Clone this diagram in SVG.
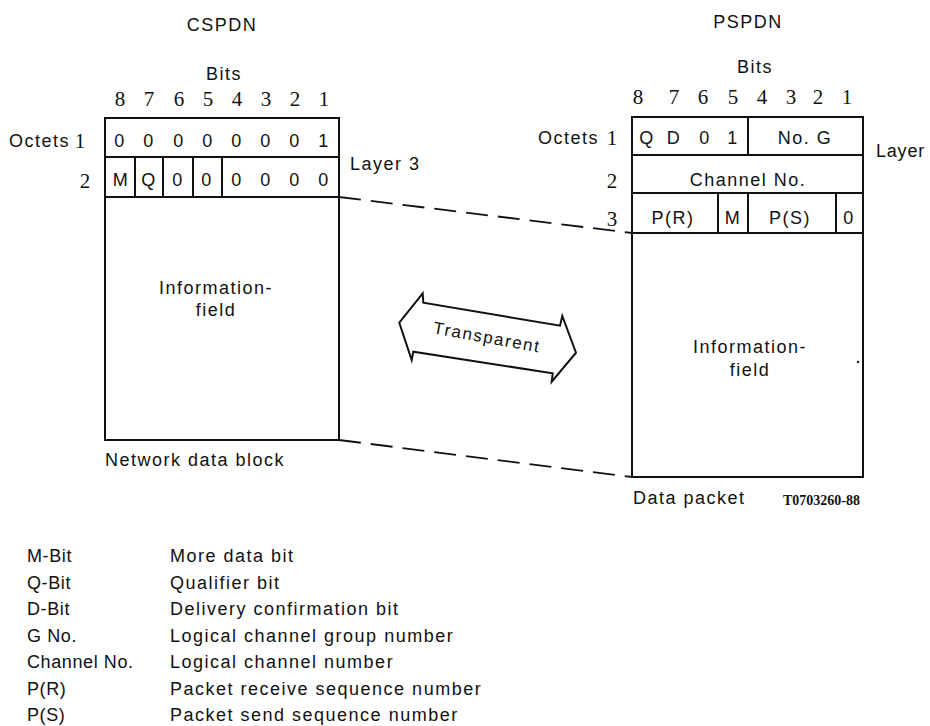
<svg xmlns="http://www.w3.org/2000/svg" width="930" height="726" viewBox="0 0 930 726">
<style>
.t{font-family:"Liberation Sans",Arial,sans-serif;font-size:18px;letter-spacing:1.5px;fill:#111}
.c{text-anchor:middle}
.e{text-anchor:end}
.n{font-family:"Liberation Serif","Times New Roman",serif;font-size:21px;fill:#111;text-anchor:middle}
.lg{font-family:"Liberation Sans",Arial,sans-serif;font-size:18px;letter-spacing:1.5px;fill:#111}
.lk{letter-spacing:0.6px}
.box{fill:none;stroke:#111;stroke-width:2}
.ln{stroke:#111;stroke-width:2}
.dash{stroke:#111;stroke-width:1.8;stroke-dasharray:22 10;fill:none}
</style>
<rect width="930" height="726" fill="#fff"/>

<g id="cspdn">
<text class="t c" x="222" y="31">CSPDN</text>
<text class="t c" x="224" y="80">Bits</text>
<g class="n">
<text x="120" y="106">8</text><text x="149" y="106">7</text><text x="179" y="106">6</text><text x="208" y="106">5</text><text x="237" y="106">4</text><text x="266" y="106">3</text><text x="295" y="106">2</text><text x="324" y="106">1</text>
</g>
<text class="t e" x="70" y="147">Octets</text>
<text class="n" x="80" y="148">1</text>
<text class="n" x="85" y="188">2</text>
<rect class="box" x="105" y="118" width="234" height="322"/>
<line class="ln" x1="105" y1="157" x2="339" y2="157"/>
<line class="ln" x1="105" y1="197" x2="339" y2="197"/>
<line class="ln" x1="135" y1="157" x2="135" y2="197"/>
<line class="ln" x1="163" y1="157" x2="163" y2="197"/>
<line class="ln" x1="193" y1="157" x2="193" y2="197"/>
<line class="ln" x1="222" y1="157" x2="222" y2="197"/>
<g class="t c">
<text x="120" y="147">0</text><text x="149" y="147">0</text><text x="179" y="147">0</text><text x="208" y="147">0</text><text x="237" y="147">0</text><text x="266" y="147">0</text><text x="295" y="147">0</text><text x="324" y="147">1</text>
<text x="121" y="186">M</text><text x="149" y="186">Q</text><text x="178" y="186">0</text><text x="207" y="186">0</text><text x="237" y="186">0</text><text x="266" y="186">0</text><text x="295" y="186">0</text><text x="324" y="186">0</text>
<text x="216" y="294">Information-</text>
<text x="216" y="316">field</text>
</g>
<text class="t" x="350" y="170">Layer 3</text>
<text class="t" x="105" y="466">Network data block</text>
</g>

<g id="pspdn">
<text class="t c" x="748" y="28">PSPDN</text>
<text class="t c" x="755" y="73">Bits</text>
<g class="n">
<text x="638" y="104">8</text><text x="674" y="104">7</text><text x="703" y="104">6</text><text x="733" y="104">5</text><text x="762" y="104">4</text><text x="791" y="104">3</text><text x="818" y="104">2</text><text x="847" y="104">1</text>
</g>
<text class="t e" x="599" y="144">Octets</text>
<text class="n" x="612" y="145">1</text>
<text class="n" x="612" y="188">2</text>
<text class="n" x="612" y="226">3</text>
<rect class="box" x="632" y="117" width="231" height="360"/>
<line class="ln" x1="632" y1="155" x2="863" y2="155"/>
<line class="ln" x1="632" y1="193" x2="863" y2="193"/>
<line class="ln" x1="632" y1="233" x2="863" y2="233"/>
<line class="ln" x1="748" y1="117" x2="748" y2="155"/>
<line class="ln" x1="718" y1="193" x2="718" y2="233"/>
<line class="ln" x1="748" y1="193" x2="748" y2="233"/>
<line class="ln" x1="836" y1="193" x2="836" y2="233"/>
<g class="t c">
<text x="647" y="144">Q</text><text x="674" y="144">D</text><text x="705" y="144">0</text><text x="733" y="144">1</text>
<text x="805" y="144">No. G</text>
<text x="748" y="186">Channel No.</text>
<text x="673" y="224">P(R)</text><text x="733" y="224">M</text><text x="790" y="224">P(S)</text><text x="849" y="224">0</text>
<text x="750" y="353">Information-</text>
<text x="750" y="376">field</text>
</g>
<circle cx="858" cy="362" r="1.2" fill="#111"/>
<text class="t" x="876" y="157" style="letter-spacing:0.8px">Layer</text>
<text class="t" x="633" y="504">Data packet</text>
<text x="783" y="505" style="font-family:'Liberation Serif','Times New Roman',serif;font-size:14px;font-weight:bold;fill:#111">T0703260-88</text>
</g>

<g id="connectors">
<line class="dash" x1="339" y1="197" x2="632" y2="233"/>
<line class="dash" x1="339" y1="440" x2="632" y2="477"/>
</g>

<g id="transparent">
<polygon points="399.3,322.7 422.7,293.3 423.3,302.7 560,325.7 562.3,316 576,352.7 551.7,381.7 552.7,373.3 413.3,351.7 411.7,360" fill="#fff" stroke="#111" stroke-width="2" stroke-linejoin="miter"/>
<text class="t c" x="487" y="343" style="font-size:17px;letter-spacing:1.6px" transform="rotate(10.3 487 337)">Transparent</text>
</g>

<g id="legend" class="lg">
<g class="lk">
<text x="27" y="562">M-Bit</text>
<text x="27" y="589">Q-Bit</text>
<text x="27" y="615">D-Bit</text>
<text x="27" y="642">G No.</text>
<text x="27" y="668">Channel No.</text>
<text x="27" y="695">P(R)</text>
<text x="27" y="721">P(S)</text>
</g>
<text x="170" y="562">More data bit</text>
<text x="170" y="589">Qualifier bit</text>
<text x="170" y="615">Delivery confirmation bit</text>
<text x="170" y="642">Logical channel group number</text>
<text x="170" y="668">Logical channel number</text>
<text x="170" y="695">Packet receive sequence number</text>
<text x="170" y="721">Packet send sequence number</text>
</g>
</svg>
